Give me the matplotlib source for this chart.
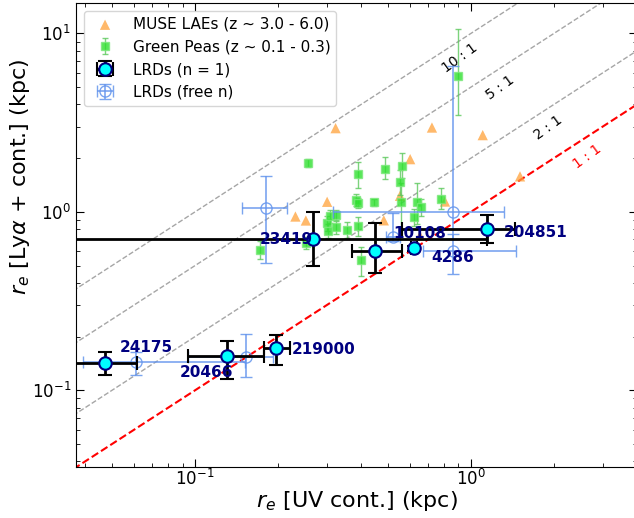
import numpy as np
import matplotlib
matplotlib.use("Agg")
import matplotlib.pyplot as plt

# MUSE LAEs (z ~ 3-6)
muse_x = [0.231, 0.252, 0.301, 0.323, 0.483, 0.553, 0.602, 0.722, 0.805, 1.103, 1.506, 0.653]
muse_y = [0.941, 0.894, 1.138, 2.943, 0.896, 1.229, 1.973, 2.967, 1.142, 2.690, 1.580, 0.734]

# Green Peas (z ~ 0.1-0.3)
gp_x = [0.172, 0.253, 0.257, 0.300, 0.303, 0.308, 0.324, 0.324, 0.354, 0.383, 0.390,
        0.388, 0.388, 0.399, 0.445, 0.486, 0.553, 0.562, 0.557, 0.635, 0.658, 0.621,
        0.776, 0.897]
gp_y = [0.612, 0.668, 1.889, 0.864, 0.782, 0.950, 0.962, 0.821, 0.793, 1.167, 1.119,
        1.633, 0.835, 0.538, 1.133, 1.741, 1.478, 1.810, 1.142, 1.130, 1.067, 0.932,
        1.183, 5.780]
gp_ylo = [0.07, 0.05, 0.10, 0.08, 0.07, 0.08, 0.06, 0.07, 0.08, 0.09, 0.07,
          0.27, 0.10, 0.10, 0.05, 0.22, 0.23, 0.27, 0.35, 0.27, 0.12, 0.10,
          0.15, 2.30]
gp_yhi = [0.07, 0.05, 0.10, 0.08, 0.07, 0.08, 0.06, 0.07, 0.08, 0.09, 0.07,
          0.28, 0.10, 0.10, 0.05, 0.28, 0.24, 0.32, 0.31, 0.32, 0.12, 0.10,
          0.18, 4.80]

# LRDs, Sersic n = 1
lrd_id = ["24175", "20466", "219000", "23419", "10108", "4286", "204851"]
lrd_x = [0.0473, 0.130, 0.196, 0.268, 0.448, 0.621, 1.140]
lrd_y = [0.142, 0.155, 0.172, 0.703, 0.605, 0.626, 0.800]
lrd_xlo = [0.046, 0.036, 0.019, 0.267, 0.077, 0.015, 0.580]
lrd_xhi = [0.0142, 0.047, 0.024, 0.872, 0.112, 0.015, 0.305]
lrd_ylo = [0.020, 0.040, 0.033, 0.209, 0.151, 0.020, 0.127]
lrd_yhi = [0.022, 0.033, 0.033, 0.293, 0.266, 0.020, 0.162]

# LRDs, free n
free_x = [0.0612, 0.153, 0.181, 0.522, 0.863, 0.863]
free_y = [0.144, 0.153, 1.057, 0.727, 1.004, 0.605]
free_xlo = [0.022, 0.059, 0.033, 0.030, 0.547, 0.193]
free_xhi = [0.090, 0.038, 0.035, 0.030, 0.455, 0.593]
free_ylo = [0.022, 0.035, 0.541, 0.045, 0.300, 0.157]
free_yhi = [0.020, 0.053, 0.533, 0.256, 5.520, 0.150]

# label positions for the n = 1 LRDs
lab_x = [0.0532, 0.0879, 0.224, 0.268, 0.522, 0.720, 1.310]
lab_y = [0.173, 0.1253, 0.1686, 0.697, 0.760, 0.555, 0.766]
lab_ha = ["left", "left", "left", "right", "left", "left", "left"]

ratios = [10, 5, 2]
ratio_lab_x = [0.912, 1.274, 1.903]
ratio_lab_y = [7.29, 4.95, 2.955]

fig = plt.figure(figsize=(6.34, 5.18), dpi=100)
ax = fig.add_axes([0.1199, 0.0979, 0.8849, 0.8963])

xx = np.array([0.01, 100.0])
for r, tx, ty in zip(ratios, ratio_lab_x, ratio_lab_y):
    ax.plot(xx, r * xx, ls="--", color="gray", lw=1, alpha=0.7, zorder=1)
    ax.text(tx, ty, f"{r} : 1", rotation=36, ha="center", va="center", fontsize=10)
ax.plot(xx, xx, ls="--", color="red", lw=1.5, zorder=1)
ax.text(2.636, 2.03, "1 : 1", rotation=36, ha="center", va="center",
        fontsize=10, color="red")

ax.scatter(muse_x, muse_y, marker="^", s=55, color="#ffa23a", alpha=0.75,
           edgecolors="none", label="MUSE LAEs (z ~ 3.0 - 6.0)", zorder=2)

ax.errorbar(gp_x, gp_y, yerr=[gp_ylo, gp_yhi], fmt="s", ms=6, color="#2ee02e",
            mec="#7be87b", ecolor="#5cc85c", elinewidth=1, capsize=2,
            alpha=0.8, label="Green Peas (z ~ 0.1 - 0.3)", zorder=3)

ax.errorbar(free_x, free_y, xerr=[free_xlo, free_xhi], yerr=[free_ylo, free_yhi],
            fmt="o", ms=8, mfc="none", mec="cornflowerblue", color="cornflowerblue",
            elinewidth=1.2, capsize=4, alpha=0.85, label="LRDs (free n)", zorder=4)

ax.errorbar(lrd_x, lrd_y, xerr=[lrd_xlo, lrd_xhi], yerr=[lrd_ylo, lrd_yhi],
            fmt="o", ms=9, mfc="cyan", mec="navy", mew=1.5, ecolor="black",
            elinewidth=2, capsize=5, capthick=2, label="LRDs (n = 1)", zorder=5)

for name, tx, ty, ha in zip(lrd_id, lab_x, lab_y, lab_ha):
    ax.text(tx, ty, name, ha=ha, va="center", fontsize=11, fontweight="bold",
            color="navy", zorder=6)

ax.set_xscale("log")
ax.set_yscale("log")
ax.set_xlim(0.037, 4.0)
ax.set_ylim(0.037, 14.8)
ax.tick_params(which="both", direction="in", top=True, right=True, labelsize=12)
ax.tick_params(which="major", length=6)
ax.tick_params(which="minor", length=3)
ax.tick_params(axis="x", which="both", pad=1.5)

ax.set_xlabel(r"$r_e$ [UV cont.] (kpc)", fontsize=16, labelpad=0)
ax.set_ylabel(r"$r_e$ [Ly$\alpha$ + cont.] (kpc)", fontsize=16)
ax.yaxis.set_label_coords(-0.078, 0.625)

handles, labels = ax.get_legend_handles_labels()
order = [labels.index(l) for l in ["MUSE LAEs (z ~ 3.0 - 6.0)", "Green Peas (z ~ 0.1 - 0.3)",
                                   "LRDs (n = 1)", "LRDs (free n)"]]
ax.legend([handles[i] for i in order], [labels[i] for i in order],
          loc="upper left", fontsize=11)

fig.savefig("out.png", dpi=100)
